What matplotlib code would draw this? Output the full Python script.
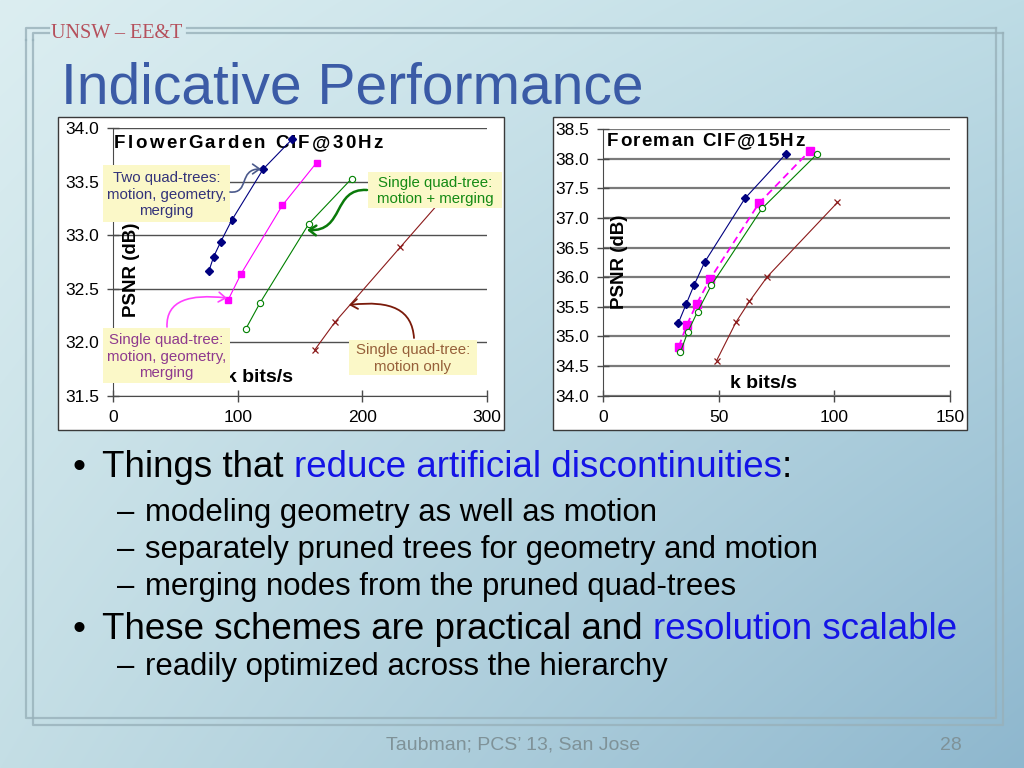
import numpy as np
import matplotlib
matplotlib.use("Agg")
import matplotlib.pyplot as plt
from matplotlib.patches import Rectangle, FancyArrowPatch
from matplotlib.path import Path

# -----------------------------
# Data
# -----------------------------
FG_X_TWO = [76.9, 80.6, 86.3, 95.1, 120.5, 143.8]
FG_Y_TWO = [32.67, 32.80, 32.94, 33.14, 33.62, 33.90]
FG_X_GEO = [92.4, 102.6, 135.8, 163.4]
FG_Y_GEO = [32.40, 32.64, 33.28, 33.68]
FG_X_MERGE = [106.6, 117.9, 157.2, 191.5]
FG_Y_MERGE = [32.13, 32.37, 33.11, 33.53]
FG_X_MOTION = [161.8, 178.1, 230.6, 275.0]
FG_Y_MOTION = [31.93, 32.19, 32.89, 33.48]

FM_X_TWO = [32.5, 35.8, 39.2, 43.8, 61.3, 79.0]
FM_Y_TWO = [35.23, 35.54, 35.86, 36.25, 37.33, 38.08]
FM_X_GEO = [32.7, 36.1, 40.4, 46.2, 67.4, 89.3]
FM_Y_GEO = [34.83, 35.19, 35.55, 35.97, 37.25, 38.13]
FM_X_MERGE = [33.3, 36.5, 40.8, 46.7, 68.7, 92.3]
FM_Y_MERGE = [34.73, 35.07, 35.42, 35.86, 37.16, 38.07]
FM_X_MOTION = [49.0, 57.4, 63.2, 71.0, 101.3]
FM_Y_MOTION = [34.59, 35.24, 35.59, 36.01, 37.26]

FG_XTICKS = [0, 100, 200, 300]
FG_YTICKS = [31.5, 32.0, 32.5, 33.0, 33.5, 34.0]
FM_XTICKS = [0, 50, 100, 150]
FM_YTICKS = [34.0, 34.5, 35.0, 35.5, 36.0, 36.5, 37.0, 37.5, 38.0, 38.5]

BULLETS = [
    (0, [("Things that ", "k"), ("reduce artificial discontinuities", "b"), (":", "k")]),
    (1, [("modeling geometry as well as motion", "k")]),
    (1, [("separately pruned trees for geometry and motion", "k")]),
    (1, [("merging nodes from the pruned quad-trees", "k")]),
    (0, [("These schemes are practical and ", "k"), ("resolution scalable", "b")]),
    (1, [("readily optimized across the hierarchy", "k")]),
]

# -----------------------------
# Style
# -----------------------------
W, H = 1024, 768
SANS = ["Liberation Sans", "DejaVu Sans"]
NARROW = ["Liberation Sans Narrow", "Liberation Sans", "DejaVu Sans"]
SERIF = ["Liberation Serif", "DejaVu Serif"]
NAVY = "#000080"
MAGENTA = "#ff00ff"
GREEN = "#008000"
BROWN = "#8b1a1a"
TEXT_BLUE = "#1414e6"
TITLE_BLUE = "#3b5ba6"
BOX_FILL = "#fbf8c8"
FRAME = "#98b1ba"

plt.rcParams["font.family"] = SANS

fig = plt.figure(figsize=(W / 100, H / 100), dpi=100)
renderer = fig.canvas.get_renderer()

# background gradient
yy, xx = np.mgrid[0:1:H * 1j, 0:1:W * 1j]
tl = np.array([220, 238, 241]) / 255
tr = np.array([190, 220, 229]) / 255
bl = np.array([196, 222, 229]) / 255
br = np.array([142, 183, 206]) / 255
grad = ((1 - xx)[..., None] * (1 - yy)[..., None] * tl + xx[..., None] * (1 - yy)[..., None] * tr
        + (1 - xx)[..., None] * yy[..., None] * bl + xx[..., None] * yy[..., None] * br)

bg = fig.add_axes([0, 0, 1, 1], zorder=0)
bg.imshow(grad, extent=(0, W, H, 0), aspect="auto")
bg.set_xlim(0, W)
bg.set_ylim(H, 0)
bg.axis("off")

# double frame, broken at the top-left for the header text
for (x0, y0, x1, y1) in [(26, 28, 996, 718), (33, 33, 1003, 725)]:
    bg.plot([x0, x0, x1, x1], [40, y1, y1, y0], color=FRAME, lw=1.6, alpha=0.8)
    bg.plot([x0, x0, 49], [40, y0, y0], color=FRAME, lw=1.6, alpha=0.8)
    bg.plot([187, x1], [y0, y0], color=FRAME, lw=1.6, alpha=0.8)

# white chart panels
for (x0, y0, x1, y1) in [(58, 117, 504, 430), (553, 117, 967, 430)]:
    bg.add_patch(Rectangle((x0, y0), x1 - x0, y1 - y0, facecolor="white",
                           edgecolor="#3a3a3a", lw=1.0))


def px_axes(x0, y0, x1, y1, z=2):
    return fig.add_axes([x0 / W, 1 - y1 / H, (x1 - x0) / W, (y1 - y0) / H], zorder=z)


ov = fig.add_axes([0, 0, 1, 1], zorder=10)
ov.set_xlim(0, W)
ov.set_ylim(H, 0)
ov.axis("off")
ov.patch.set_alpha(0)
PX = ov.transData


def text_width(s, **kw):
    t = ov.text(0, 0, s + "|", **kw)
    w1 = t.get_window_extent(renderer).width
    t.set_text("|")
    w0 = t.get_window_extent(renderer).width
    t.remove()
    return w1 - w0


def spaced_text(ax, x, y, s, track=0.0, **kw):
    # draw s starting at pixel x with extra letter spacing
    for i, ch in enumerate(s):
        dx = text_width(s[:i], **kw) + i * track
        ax.text(x + dx, y, ch, transform=PX, ha="left", clip_on=False, **kw)


def style_axes(ax, xlim, ylim, xticks, yticks, gcol, glw):
    ax.set_facecolor("none")
    ax.set_xlim(*xlim)
    ax.set_ylim(*ylim)
    ax.set_xticks(xticks)
    ax.set_yticks(yticks)
    ax.set_yticklabels([f"{v:.1f}" for v in yticks])
    ax.set_xticklabels([str(v) for v in xticks])
    ax.grid(axis="y", color=gcol, lw=glw)
    ax.set_axisbelow(True)
    for s in ["top", "right"]:
        ax.spines[s].set_visible(False)
    for s in ["left", "bottom"]:
        ax.spines[s].set_color("#4a4a4a")
    ax.tick_params(direction="inout", length=8, width=1, color="#4a4a4a",
                   labelsize=12.5, pad=6)


# -----------------------------
# Left chart: FlowerGarden
# -----------------------------
ax1 = px_axes(113.3, 128.3, 486.7, 396)
style_axes(ax1, (0, 300), (31.5, 34.0), FG_XTICKS, FG_YTICKS, "#505050", 1.0)
ax1.plot(FG_X_TWO, FG_Y_TWO, color=NAVY, lw=0.8, marker="D", ms=4.2, zorder=4, clip_on=False)
ax1.plot(FG_X_GEO, FG_Y_GEO, color=MAGENTA, lw=0.8, marker="s", ms=5, zorder=4)
ax1.plot(FG_X_MERGE, FG_Y_MERGE, color=GREEN, lw=0.8, marker="o", ms=4.5,
         mfc="white", mew=0.8, zorder=4)
ax1.plot(FG_X_MOTION, FG_Y_MOTION, color=BROWN, lw=0.8, marker="x", ms=4.5, mew=0.9, zorder=4)

spaced_text(ax1, 114, 144, "FlowerGarden CIF@30Hz", track=2.3, fontsize=13.5,
            fontweight="bold", va="center", zorder=2)
ax1.text(131.7, 270, "PSNR (dB)", transform=PX, rotation=90, ha="center", va="center",
         fontsize=13.5, fontweight="bold", clip_on=False)
ax1.text(259, 377, "k bits/s", transform=PX, ha="center", va="center",
         fontsize=14, fontweight="bold", clip_on=False)

# -----------------------------
# Right chart: Foreman
# -----------------------------
ax2 = px_axes(603.3, 129, 950, 395.7)
style_axes(ax2, (0, 150), (34.0, 38.5), FM_XTICKS, FM_YTICKS, "#7a7a7a", 1.6)
ax2.plot(FM_X_TWO, FM_Y_TWO, color=NAVY, lw=0.8, marker="D", ms=4.5, zorder=4)
ax2.plot(FM_X_GEO, FM_Y_GEO, color=MAGENTA, lw=1.3, ls=(0, (4, 2.5)), marker="s", ms=5.5, zorder=4)
ax2.plot(FM_X_MERGE, FM_Y_MERGE, color=GREEN, lw=0.8, marker="o", ms=4.5,
         mfc="white", mew=0.8, zorder=4)
ax2.plot(FM_X_MOTION, FM_Y_MOTION, color=BROWN, lw=0.8, marker="x", ms=5, mew=0.9, zorder=4)

spaced_text(ax2, 607, 142, "Foreman CIF@15Hz", track=1.4, fontsize=13.5,
            fontweight="bold", va="center", zorder=2)
ax2.text(620, 262, "PSNR (dB)", transform=PX, rotation=90, ha="center", va="center",
         fontsize=13.5, fontweight="bold", clip_on=False)
ax2.text(763, 383, "k bits/s", transform=PX, ha="center", va="center",
         fontsize=14, fontweight="bold", clip_on=False)

# -----------------------------
# Callout boxes and arrows (pixel coords)
# -----------------------------
callouts = [
    ((103, 165, 230, 222), "Two quad-trees:\nmotion, geometry,\nmerging", "#33337a"),
    ((368, 172, 502, 208), "Single quad-tree:\nmotion + merging", "#148a14"),
    ((103, 328, 230, 383), "Single quad-tree:\nmotion, geometry,\nmerging", "#8e3a8e"),
    ((349, 340, 477, 375), "Single quad-tree:\nmotion only", "#96603a"),
]
for (x0, y0, x1, y1), txt, col in callouts:
    ov.add_patch(Rectangle((x0, y0), x1 - x0, y1 - y0, facecolor=BOX_FILL, edgecolor="none"))
    ov.text((x0 + x1) / 2, (y0 + y1) / 2 + 1, txt, color=col, ha="center", va="center",
            fontsize=10.8, linespacing=1.25)

# S-shaped arrows: tail, two control points, head
arrows = [
    ([(230, 192), (250, 194), (238, 169), (261, 169)], "#4b5a8c", 1.2),
    ([(367, 190), (332, 188), (345, 232), (307, 230)], "#0a7a0a", 1.8),
    ([(167, 327), (166, 300), (190, 294), (227, 298)], "#ff40ff", 1.2),
    ([(414, 338), (412, 310), (392, 300), (349, 305)], "#7a1a0a", 1.3),
]
codes = [Path.MOVETO, Path.CURVE4, Path.CURVE4, Path.CURVE4]
for pts, col, lw in arrows:
    ov.add_patch(FancyArrowPatch(path=Path(pts, codes), color=col, lw=lw,
                                 arrowstyle="->,head_length=5,head_width=3.5",
                                 shrinkA=0, shrinkB=0))

# -----------------------------
# Slide text
# -----------------------------
ov.text(51, 38, "UNSW \u2013 EE&T", family=SERIF, fontsize=14.5, color="#b5505c",
        ha="left", va="baseline")
ov.text(61, 103, "Indicative Performance", fontsize=41, color=TITLE_BLUE,
        ha="left", va="baseline")

baselines = [477, 521, 558, 595, 639, 675]
for (level, parts), yb in zip(BULLETS, baselines):
    if level == 0:
        size, x0 = 26.5, 102
        ov.text(72, yb, "\u2022", fontsize=size, ha="left", va="baseline")
    else:
        size, x0 = 22.4, 145
        ov.text(117, yb, "\u2013", fontsize=size, ha="left", va="baseline")
    prefix = ""
    for txt, c in parts:
        dx = text_width(prefix, fontsize=size)
        ov.text(x0 + dx, yb, txt, fontsize=size, ha="left", va="baseline",
                color=TEXT_BLUE if c == "b" else "black")
        prefix += txt

ov.text(513, 750, "Taubman; PCS\u2019 13, San Jose", family=NARROW, fontsize=14,
        color="#7f9298", ha="center", va="baseline")
ov.text(962, 750, "28", family=NARROW, fontsize=14, color="#7f9298",
        ha="right", va="baseline")

fig.savefig("out.png", dpi=100)
